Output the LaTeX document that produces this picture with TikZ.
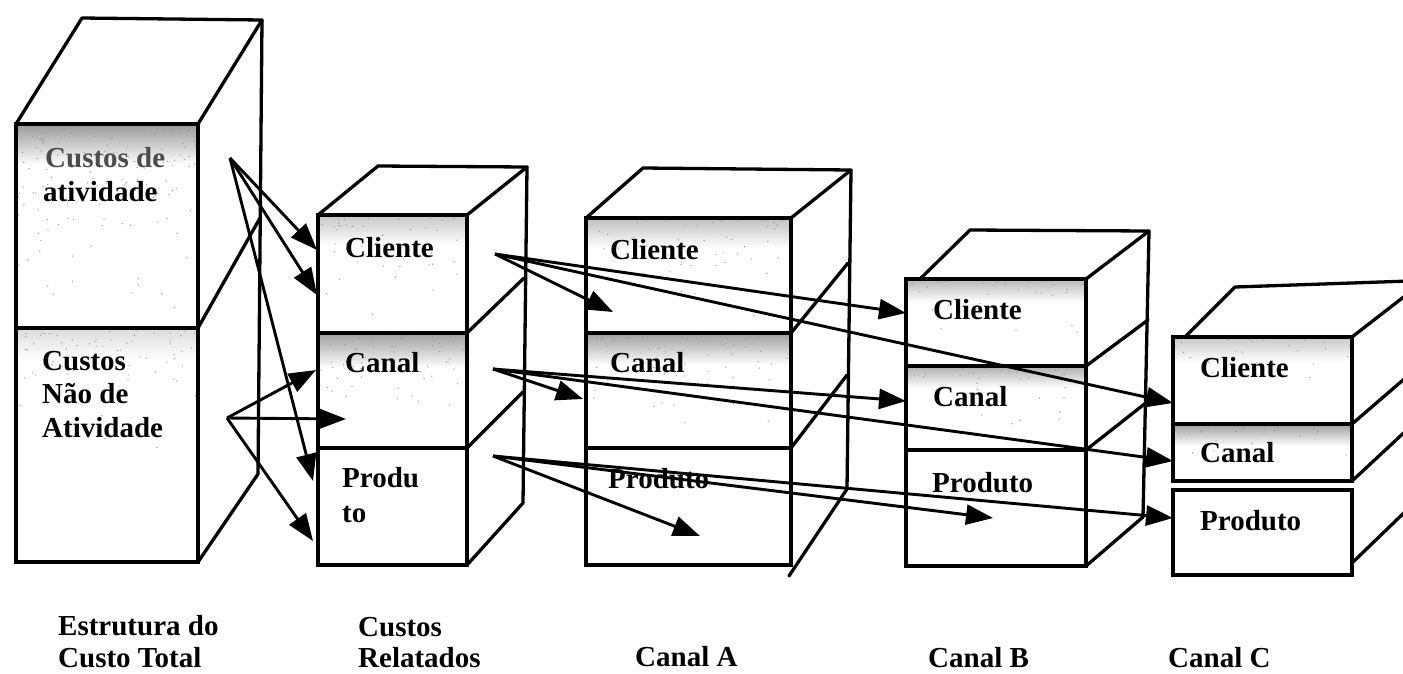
\documentclass[tikz,border=0pt]{standalone}
\usepackage{fontspec}
\setmainfont{Liberation Serif}
\usetikzlibrary{arrows.meta}
% scattered dots for the grainy grey of the shaded sections
\newcommand\grainbox[5]{%
  \foreach \k in {1,...,#5}{%
    \pgfmathsetmacro\gx{#1+rnd*(#3-#1)}%
    \pgfmathsetmacro\gy{#2+rnd*rnd*(#4-#2)}%
    \fill[black!40] (\gx,\gy) circle[radius=0.7pt];}}
\begin{document}
\begin{tikzpicture}[x=1pt,y=-1pt,
  ln/.style={line width=3.3pt,line cap=round,line join=round},
  sect/.style={draw,line width=3.3pt,rectangle,inner sep=0pt,outer sep=0pt,anchor=north west},
  lbl/.style={font=\bfseries\fontsize{29}{33}\selectfont,anchor=base west,inner sep=0pt},
  arr/.style={line width=2.9pt,-{Triangle[length=27pt,width=20pt]}},
  band/.style={top color=black!#1,bottom color=white,draw=none}]

\useasboundingbox (0,0) rectangle (1403,673);
\clip (0,0) rectangle (1403,673);
\fill[white] (0,0) rectangle (1403,673);

% grey bands at the top of the shaded sections
\shade[band=40] (16,124) rectangle (198,165);
\shade[band=14] (16,328) rectangle (198,360);
\shade[band=22] (318,215) rectangle (467,245);
\shade[band=38] (318,333) rectangle (467,368);
\shade[band=25] (586,218) rectangle (791,248);
\shade[band=38] (586,333) rectangle (791,365);
\shade[band=28] (906,279) rectangle (1086,302);
\shade[band=32] (906,366) rectangle (1086,388);
\shade[band=22] (1173,337) rectangle (1352,362);
\shade[band=38] (1173,424) rectangle (1352,446);

\pgfmathsetseed{4}
\grainbox{18}{126}{196}{326}{150}
\grainbox{18}{330}{196}{470}{70}
\grainbox{320}{217}{465}{320}{50}
\grainbox{320}{335}{465}{430}{60}
\grainbox{588}{220}{789}{320}{50}
\grainbox{588}{335}{789}{430}{60}
\grainbox{908}{281}{1084}{340}{30}
\grainbox{908}{368}{1084}{430}{30}
\grainbox{1175}{339}{1350}{400}{25}
\grainbox{1175}{426}{1350}{470}{25}

% Estrutura do Custo Total
\node[sect,minimum width=182pt,minimum height=204pt] (tA) at (16,124) {};
\node[sect,minimum width=182pt,minimum height=234pt] (tN) at (16,328) {};
\draw[ln] (tA.north west) -- (82,18) -- (262,20) -- (tA.north east);
\draw[ln] (262,20) -- (258,474) -- (tN.south east);
\draw[ln] (tA.south east) -- (260,218);

% Custos Relatados
\node[sect,minimum width=149pt,minimum height=118pt] (rCli) at (318,215) {};
\node[sect,minimum width=149pt,minimum height=115pt] (rCan) at (318,333) {};
\node[sect,minimum width=149pt,minimum height=117pt] (rPro) at (318,448) {};
\draw[ln] (rCli.north west) -- (378,166) -- (527,167) -- (rCli.north east);
\draw[ln] (527,167) -- (523,503) -- (rPro.south east);
\draw[ln] (rCli.south east) -- (524,278);
\draw[ln] (rCan.south east) -- (523,392);

% Canal A
\node[sect,minimum width=205pt,minimum height=115pt] (aCli) at (586,218) {};
\node[sect,minimum width=205pt,minimum height=115pt] (aCan) at (586,333) {};
\node[sect,minimum width=205pt,minimum height=117pt] (aPro) at (586,448) {};
\draw[ln] (aCli.north west) -- (643,168) -- (851,170) -- (aCli.north east);
\draw[ln] (851,170) -- (847,489) -- (789,576);
\draw[ln] (aCli.south east) -- (848,263);
\draw[ln] (aCan.south east) -- (847,375);

% Canal B
\node[sect,minimum width=180pt,minimum height=87pt] (bCli) at (906,279) {};
\node[sect,minimum width=180pt,minimum height=84pt] (bCan) at (906,366) {};
\node[sect,minimum width=180pt,minimum height=116pt] (bPro) at (906,450) {};
\draw[ln] (920,279) -- (970,230) -- (1149,231) -- (bCli.north east);
\draw[ln] (1149,231) -- (1143,517) -- (bPro.south east);
\draw[ln] (bCli.south east) -- (1148,320);
\draw[ln] (bCan.south east) -- (1147,402);

% Canal C
\node[sect,minimum width=179pt,minimum height=87pt] (cCli) at (1173,337) {};
\node[sect,minimum width=179pt,minimum height=57pt] (cCan) at (1173,424) {};
\node[sect,minimum width=179pt,minimum height=85pt] (cPro) at (1173,490) {};
\draw[ln] (1185,337) -- (1235,287) -- (1410,281);
\draw[ln] (cCli.north east) -- (1410,292);
\draw[ln] (cCli.south east) -- (1410,374);
\draw[ln] (cCan.south east) -- (1410,427);
\draw[ln] (1352,563) -- (1410,507);

% texts in the boxes
\node[lbl,text=black!70] (t1) at (45,167) {Custos de};
\node[lbl] (t2) at (43,201) {atividade};
\node[lbl] (t3) at (42,370) {Custos};
\node[lbl] (t4) at (42,403) {Não de};
\node[lbl] (t5) at (42,437) {Atividade};

\node[lbl] (r1) at (345,257) {Cliente};
\node[lbl] (r2) at (345,372) {Canal};
\node[lbl] (r3) at (342,487) {Produ};
\node[lbl] (r4) at (342,522) {to};

\node[lbl] (a1) at (610,259) {Cliente};
\node[lbl] (a2) at (610,372) {Canal};
\node[lbl] (a3) at (608,488) {Produto};

\node[lbl] (b1) at (933,319) {Cliente};
\node[lbl] (b2) at (933,406) {Canal};
\node[lbl] (b3) at (932,492) {Produto};

\node[lbl] (c1) at (1200,377) {Cliente};
\node[lbl] (c2) at (1200,462) {Canal};
\node[lbl] (c3) at (1200,530) {Produto};

% captions
\node[lbl] (k1) at (58,635) {Estrutura do};
\node[lbl] (k2) at (58,667) {Custo Total};
\node[lbl] (k3) at (358,636) {Custos};
\node[lbl] (k4) at (358,667) {Relatados};
\node[lbl] (k5) at (635,666) {Canal A};
\node[lbl] (k6) at (928,667) {Canal B};
\node[lbl] (k7) at (1168,667) {Canal C};

% arrow origins and tips
\coordinate (oA) at (230,158);
\coordinate (oN) at (227,418);
\coordinate (oR1) at (495,254);
\coordinate (oR2) at (493,369);
\coordinate (oR3) at (493,456);
\coordinate (pA1) at (317,250);
\coordinate (pA2) at (317,295);
\coordinate (pA3) at (313,481);
\coordinate (pN1) at (316,370);
\coordinate (pN2) at (346,419);
\coordinate (pN3) at (313,541);
\coordinate (q11) at (613,312);
\coordinate (q12) at (906,313);
\coordinate (q13) at (1173,403);
\coordinate (q21) at (583,399);
\coordinate (q22) at (906,401);
\coordinate (q23) at (1173,461);
\coordinate (q31) at (700,536);
\coordinate (q32) at (993,518);
\coordinate (q33) at (1173,518);

\draw[arr] (oA) -- (pA1);
\draw[arr] (oA) -- (pA2);
\draw[arr] (oA) -- (pA3);
\draw[arr] (oN) -- (pN1);
\draw[arr] (oN) -- (pN2);
\draw[arr] (oN) -- (pN3);
\draw[arr] (oR1) -- (q11);
\draw[arr] (oR1) -- (q12);
\draw[arr] (oR1) -- (q13);
\draw[arr] (oR2) -- (q21);
\draw[arr] (oR2) -- (q22);
\draw[arr] (oR2) -- (q23);
\draw[arr] (oR3) -- (q31);
\draw[arr] (oR3) -- (q32);
\draw[arr] (oR3) -- (q33);
\end{tikzpicture}
\end{document}
